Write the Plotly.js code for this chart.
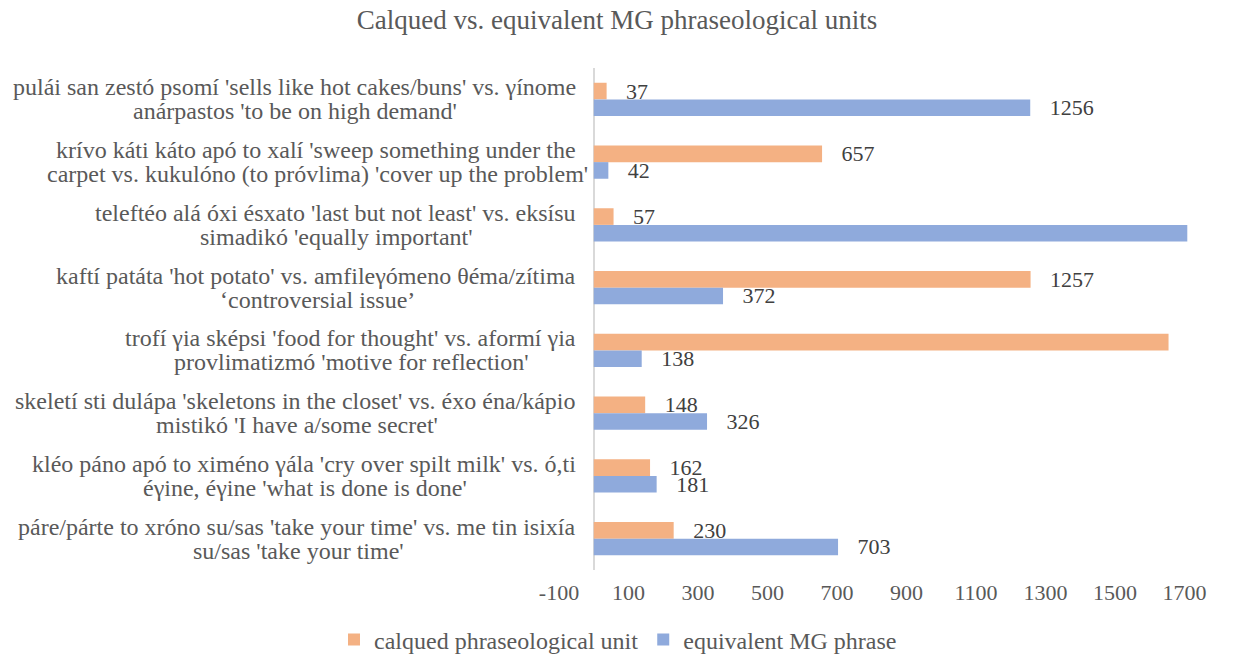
<!DOCTYPE html>
<html>
<head>
<meta charset="utf-8">
<script src="https://cdn.plot.ly/plotly-3.0.1.min.js"></script>
<style>html,body{margin:0;padding:0;background:#fff;}#chart{width:1242px;height:657px;}</style>
</head>
<body>
<div id="chart"></div>
<script>
const categories = [
  "pulái san zestó psomí 'sells like hot cakes/buns' vs. γínome<br>anárpastos 'to be on high demand'",
  "krívo káti káto apó to xalí 'sweep something under the<br>carpet vs. kukulóno (to próvlima) 'cover up the problem'",
  "teleftéo alá óxi ésxato 'last but not least' vs. eksísu<br>simadikó 'equally important'",
  "kaftí patáta 'hot potato' vs. amfileγómeno θéma/zítima<br>‘controversial issue’",
  "trofí γia sképsi 'food for thought' vs. aformí γia<br>provlimatizmó 'motive for reflection'",
  "skeletí sti dulápa 'skeletons in the closet' vs. éxo éna/kápio<br>mistikó 'I have a/some secret'",
  "kléo páno apó to ximéno γála 'cry over spilt milk' vs. ó,ti<br>éγine, éγine 'what is done is done'",
  "páre/párte to xróno su/sas 'take your time' vs. me tin isixía<br>su/sas 'take your time'"
];
const calquedValues = [37, 657, 57, 1257, 1654, 148, 162, 230];
const equivalentValues = [1256, 42, 1708, 372, 138, 326, 181, 703];
const seriesNames = ["calqued phraseological unit", "equivalent MG phrase"];
const xTickValues = [-100, 100, 300, 500, 700, 900, 1100, 1300, 1500, 1700];
const xMax = 1700;

const FONT = "Liberation Serif";
const pad = "\u00a0\u00a0\u00a0";
const W = 1242, H = 657;
const M = {l: 559, r: 54, t: 68, b: 87};
const plotW = W - M.l - M.r;
const CAT_SIZE = 24;
const LABEL_RIGHT = 578;

function barTrace(name, values, color) {
  return {
    type: 'bar', orientation: 'h', name: name,
    x: values, y: categories,
    marker: {color: color},
    text: values.map(v => v > xMax ? '' : pad + v),
    texttemplate: '%{text}',
    textposition: 'outside',
    cliponaxis: true,
    constraintext: 'none',
    textfont: {family: FONT, size: 22, color: '#404040'},
    hoverinfo: 'x+name'
  };
}

const data = [
  barTrace(seriesNames[0], calquedValues, '#F4B183'),
  barTrace(seriesNames[1], equivalentValues, '#8FAADC')
];

// category labels: two lines, second centred under the first
const ctx = document.createElement('canvas').getContext('2d');
ctx.font = CAT_SIZE + 'px "Liberation Serif"';
const annotations = [];
categories.forEach(c => {
  const lines = c.split('<br>');
  const w1 = ctx.measureText(lines[0]).width;
  const catFont = {family: FONT, size: CAT_SIZE, color: '#595959'};
  annotations.push({
    xref: 'paper', yref: 'y', x: (LABEL_RIGHT - M.l) / plotW, y: c,
    xanchor: 'right', yanchor: 'middle', yshift: 12,
    text: lines[0], showarrow: false, font: catFont
  });
  annotations.push({
    xref: 'paper', yref: 'y', x: (LABEL_RIGHT - 1 - w1 / 2 - M.l) / plotW, y: c,
    xanchor: 'center', yanchor: 'middle', yshift: -12,
    text: lines[1], showarrow: false, font: catFont
  });
});

const layout = {
  width: W, height: H,
  margin: M,
  paper_bgcolor: '#fff', plot_bgcolor: '#fff',
  font: {family: FONT, color: '#595959'},
  title: {text: 'Calqued vs. equivalent MG phraseological units',
          font: {family: FONT, size: 27, color: '#595959'},
          x: 617 / W, xanchor: 'center', y: 1 - 20 / H, yanchor: 'middle'},
  barmode: 'group', bargap: 0.47, bargroupgap: 0,
  xaxis: {range: [-100, 1710], tickvals: xTickValues, ticktext: xTickValues.map(String),
          showgrid: false, zeroline: true, zerolinecolor: '#d9d9d9', zerolinewidth: 1.5,
          showline: false, ticks: '', ticklabelstandoff: 7, automargin: false,
          tickfont: {family: FONT, size: 22, color: '#595959'}},
  yaxis: {type: 'category', autorange: 'reversed', showticklabels: false, automargin: false,
          showgrid: false, zeroline: false, showline: false, ticks: ''},
  showlegend: true,
  legend: {orientation: 'h', xref: 'container', yref: 'container',
           x: 618 / W, xanchor: 'center', y: 1 - 640 / H, yanchor: 'middle',
           font: {family: FONT, size: 24, color: '#595959'}, itemwidth: 30, traceorder: 'normal'},
  annotations: annotations
};

Plotly.newPlot('chart', data, layout, {displayModeBar: false, staticPlot: true});
</script>
</body>
</html>
